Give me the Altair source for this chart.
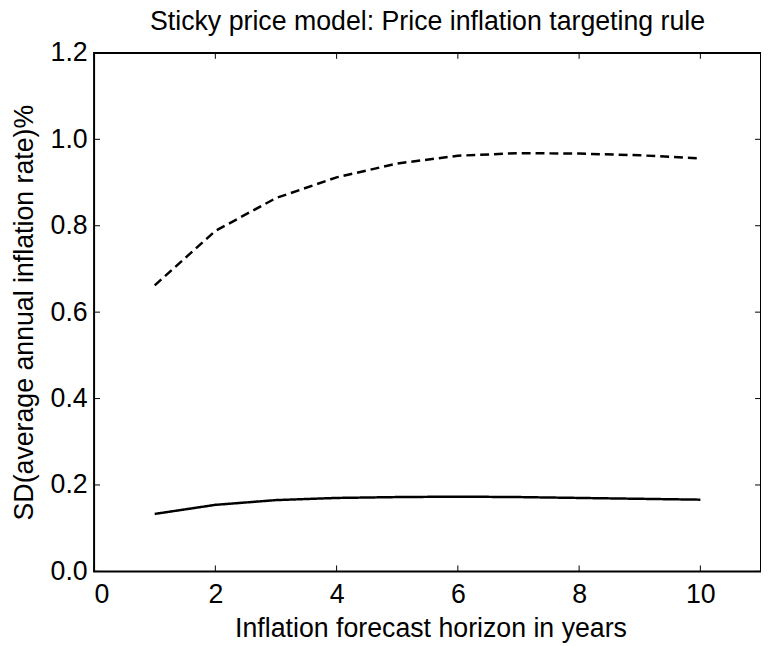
import altair as alt
import pandas as pd

horizon = [1, 2, 3, 4, 5, 6, 7, 8, 9, 10]
sd_solid = [0.133, 0.154, 0.165, 0.170, 0.172, 0.173, 0.172, 0.170, 0.168, 0.166]
sd_dashed = [0.662, 0.788, 0.864, 0.912, 0.944, 0.962, 0.968, 0.967, 0.963, 0.956]
series_names = ["solid", "dashed"]

x_ticks = [0, 2, 4, 6, 8, 10]
y_ticks = [0.0, 0.2, 0.4, 0.6, 0.8, 1.0, 1.2]

W, H = 674, 524
FONT = "Liberation Sans"
FS = 27

df = pd.DataFrame({
    "x": horizon * 2,
    "y": sd_solid + sd_dashed,
    "series": [series_names[0]] * len(horizon) + [series_names[1]] * len(horizon),
})
xt = pd.DataFrame({"x": x_ticks})
yt = pd.DataFrame({"y": y_ticks})

xscale = alt.Scale(domain=[0, 11], nice=False, zero=False)
yscale = alt.Scale(domain=[0, 1.2], nice=False, zero=False)

xaxis = alt.Axis(values=x_ticks, format="d", ticks=False, domain=False, grid=False,
                 labelFont=FONT, labelFontSize=FS, labelColor="black", labelPadding=10,
                 title="Inflation forecast horizon in years", titleFont=FONT, titleFontSize=FS,
                 titleFontWeight="normal", titleColor="black", titleBaseline="alphabetic",
                 titleY=66, titleX=W / 2 + 3, titleAlign="center")
yaxis = alt.Axis(values=y_ticks, format=".1f", ticks=False, domain=False, grid=False,
                 labelFont=FONT, labelFontSize=FS, labelColor="black", labelPadding=7,
                 title="SD(average annual inflation rate)%", titleFont=FONT, titleFontSize=FS,
                 titleFontWeight="normal", titleColor="black", titleBaseline="alphabetic",
                 titleX=-62, titleY=H / 2, titleAngle=270, titleAlign="center")

lines = alt.Chart(df).mark_line(color="black", strokeWidth=2.5).encode(
    x=alt.X("x:Q", scale=xscale, axis=xaxis),
    y=alt.Y("y:Q", scale=yscale, axis=yaxis),
    strokeDash=alt.StrokeDash("series:N", scale=alt.Scale(domain=series_names, range=[[1, 0], [9, 5]]), legend=None),
)

tick_bottom = alt.Chart(xt).mark_rule(color="black", strokeWidth=1).encode(
    x=alt.X("x:Q", scale=xscale, axis=xaxis), y=alt.value(H), y2=alt.value(H - 6))
tick_top = alt.Chart(xt).mark_rule(color="black", strokeWidth=1).encode(
    x=alt.X("x:Q", scale=xscale, axis=xaxis), y=alt.value(0), y2=alt.value(6))
tick_left = alt.Chart(yt).mark_rule(color="black", strokeWidth=1).encode(
    y=alt.Y("y:Q", scale=yscale, axis=yaxis), x=alt.value(0), x2=alt.value(6))
tick_right = alt.Chart(yt).mark_rule(color="black", strokeWidth=1).encode(
    y=alt.Y("y:Q", scale=yscale, axis=yaxis), x=alt.value(W), x2=alt.value(W - 6))

chart = alt.layer(lines, tick_bottom, tick_top, tick_left, tick_right).properties(
    width=W, height=H,
    title=alt.TitleParams("Sticky price model: Price inflation targeting rule",
                          font=FONT, fontSize=FS, fontWeight="normal", color="black",
                          anchor="middle", baseline="alphabetic", offset=6, dy=24, frame="group"),
    autosize=alt.AutoSizeParams(type="none"),
    padding={"left": 87, "top": 42, "right": 0, "bottom": 70},
).configure_view(stroke="black", strokeWidth=2)

chart.save("out.html", embed_options={"renderer": "svg", "actions": False})
